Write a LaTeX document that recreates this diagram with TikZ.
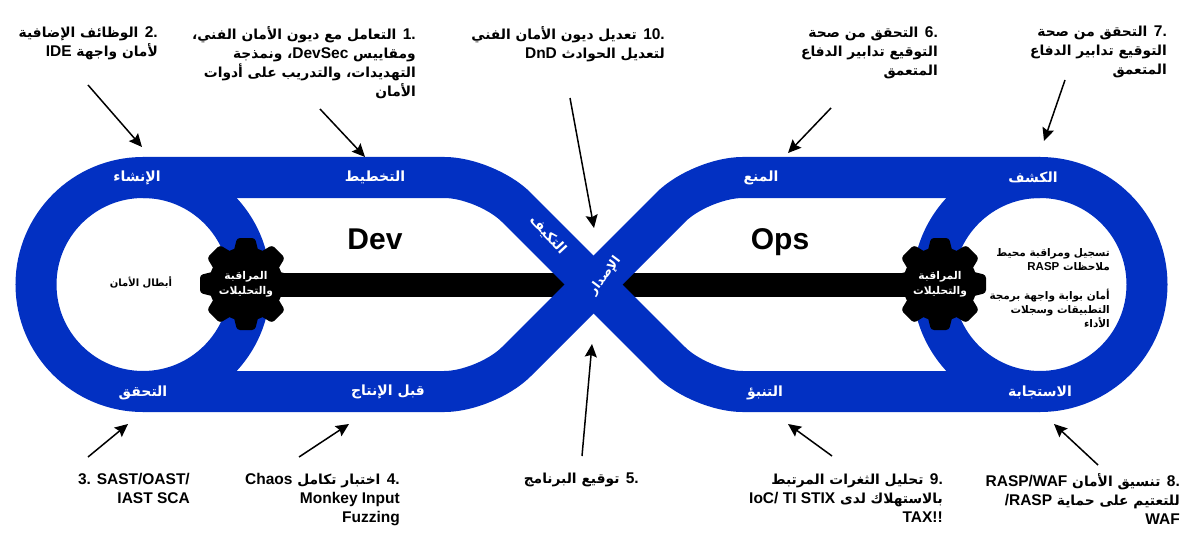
\documentclass[tikz,border=0pt]{standalone}
\usepackage{fontspec}
\usetikzlibrary{arrows.meta}
\TeXXeTstate=1
\setmainfont{Liberation Sans}
\newfontfamily\arfont[Script=Arabic]{DejaVu Sans}
\definecolor{bandblue}{HTML}{0230C2}
\newcommand{\ar}[1]{\beginR #1\endR}
\newcommand{\la}[1]{\beginL{\rmfamily\fontsize{15.5}{19}\selectfont #1}\endL{}}
\newcommand{\lb}[1]{\beginL{\rmfamily\fontsize{11.5}{14}\selectfont #1}\endL{}}
\newcommand{\gearshape}[2]{%
  \fill[black] (#1,#2) circle[radius=37pt];
  \foreach \ang in {0,45,...,315}{
    \fill[black,rounded corners=3pt,rotate around={\ang:(#1,#2)}]
      (#1-13,#2-30) -- (#1-9,#2-46) -- (#1+9,#2-46) -- (#1+13,#2-30) -- cycle;
  }}
\tikzset{
  annot/.style={anchor=north east,align=right,inner sep=0pt,font=\arfont\bfseries\fontsize{13.8}{19}\selectfont},
  bandlabel/.style={text=white,inner sep=0pt,font=\arfont\bfseries\fontsize{14}{16}\selectfont},
  smalltext/.style={anchor=north east,align=right,inner sep=0pt,font=\arfont\bfseries\fontsize{10.5}{14}\selectfont},
  geartext/.style={text=white,align=center,inner sep=0pt,font=\arfont\bfseries\fontsize{10.7}{14.5}\selectfont},
  bigtitle/.style={anchor=base,inner sep=0pt,font=\rmfamily\bfseries\fontsize{30}{34}\selectfont},
  callout/.style={line width=1.5pt,-{Stealth[length=13pt,width=12pt,inset=2pt]}},
  bandline/.style={bandblue,line width=41pt,line cap=butt,line join=round}
}
\begin{document}
\begin{tikzpicture}[x=1pt,y=-1pt]
\useasboundingbox (0,0) rectangle (1193,548);
\coordinate (xc) at (593.5,284.5);
\coordinate (gl) at (246,284.5);
\coordinate (gr) at (940,284.5);
% black bar
\draw[black,line width=24pt] (gl) -- (xc) -- (gr);
% loops
\draw[bandblue,line width=41pt] (143,284.5) circle[radius=107pt];
\draw[bandblue,line width=41pt] (1040,284.5) circle[radius=107pt];
% crossing bands
\draw[bandline,rounded corners=42pt] (143,177.5) -- (486.5,177.5) -- (xc) -- (700.5,391.5) -- (1040,391.5);
\draw[bandline,rounded corners=42pt] (143,391.5) -- (486.5,391.5) -- (xc) -- (700.5,177.5) -- (1040,177.5);
% gears
\gearshape{246}{284}
\gearshape{940}{284}
\node[geartext] (gtl) at (246,284) {\ar{المراقبة}\\\ar{والتحليلات}};
\node[geartext] (gtr) at (940,284) {\ar{المراقبة}\\\ar{والتحليلات}};
% titles
\node[bigtitle] (dev) at (375,249) {Dev};
\node[bigtitle] (ops) at (780,249) {Ops};
% band labels
\node[bandlabel] (l1) at (137,178) {\ar{الإنشاء}};
\node[bandlabel] (l2) at (375,177) {\ar{التخطيط}};
\node[bandlabel,rotate=-47] (l3) at (548,235) {\ar{التكيف}};
\node[bandlabel,rotate=53,font=\arfont\bfseries\fontsize{12.5}{14}\selectfont] (l4) at (605,276) {\ar{الإصدار}};
\node[bandlabel] (l5) at (761,178) {\ar{المنع}};
\node[bandlabel] (l6) at (1033,177) {\ar{الكشف}};
\node[bandlabel] (l7) at (143,393) {\ar{التحقق}};
\node[bandlabel] (l8) at (388,392) {\ar{قبل الإنتاج}};
\node[bandlabel] (l9) at (765,393) {\ar{التنبؤ}};
\node[bandlabel] (l10) at (1040,392) {\ar{الاستجابة}};
% inner texts
\node[text=black,inner sep=0pt,font=\arfont\bfseries\fontsize{10}{12}\selectfont] (in1) at (141,282) {\ar{أبطال الأمان}};
\node[smalltext] (in2) at (1110,248) {\ar{تسجيل ومراقبة محيط}\\\ar{ملاحظات \lb{RASP}}};
\node[smalltext] (in3) at (1110,289) {\ar{أمان بوابة واجهة برمجة}\\\ar{التطبيقات وسجلات}\\\ar{الأداء}};
% annotations
\node[annot] (t1) at (416,26) {\ar{\la{1.} التعامل مع ديون الأمان الفني،}\\\ar{ومقاييس \la{DevSec}، ونمذجة}\\\ar{التهديدات، والتدريب على أدوات}\\\ar{الأمان}};
\node[annot] (t2) at (158,26) {\ar{\la{2.} الوظائف الإضافية}\\\ar{لأمان واجهة \la{IDE}}\hspace{5pt}};
\node[annot] (t10) at (665,26) {\ar{\la{10.} تعديل ديون الأمان الفني}\\\ar{لتعديل الحوادث \la{DnD}}};
\node[annot] (t6) at (938,26) {\ar{\la{6.} التحقق من صحة}\\\ar{التوقيع تدابير الدفاع}\\\ar{المتعمق}};
\node[annot] (t7) at (1167,26) {\ar{\la{7.} التحقق من صحة}\\\ar{التوقيع تدابير الدفاع}\\\ar{المتعمق}};
\node[annot] (t3) at (190,473) {\la{3. SAST/OAST/}\\\la{IAST SCA}};
\node[annot] (t4) at (400,473) {\ar{\la{4.} اختبار تكامل \la{Chaos}}\\\la{Monkey Input}\\\la{Fuzzing}};
\node[annot] (t5) at (639,473) {\ar{\la{5.} توقيع البرنامج}};
\node[annot] (t9) at (943,473) {\ar{\la{9.} تحليل الثغرات المرتبط}\\\ar{بالاستهلاك لدى \la{IoC/ TI STIX}}\\\la{TAX!!}};
\node[annot] (t8) at (1180,473) {\ar{\la{8.} تنسيق الأمان \la{RASP/WAF}}\\\ar{للتعتيم على حماية \la{/RASP}}\\\la{WAF}};
% callout ends
\coordinate (a2s) at (88,85);   \coordinate (a2e) at (142,147);
\coordinate (a1s) at (320,109); \coordinate (a1e) at (365,157);
\coordinate (a10s) at (570,98); \coordinate (a10e) at (594,228);
\coordinate (a6s) at (831,108); \coordinate (a6e) at (788,153);
\coordinate (a7s) at (1065,80); \coordinate (a7e) at (1044,141);
\coordinate (a3s) at (88,457);  \coordinate (a3e) at (128,424);
\coordinate (a4s) at (299,457); \coordinate (a4e) at (349,424);
\coordinate (a5s) at (582,456); \coordinate (a5e) at (592,344);
\coordinate (a9s) at (832,456); \coordinate (a9e) at (788,424);
\coordinate (a8s) at (1098,465);\coordinate (a8e) at (1054,424);
\foreach \n in {1,...,10}{\draw[callout] (a\n s) -- (a\n e);}
\end{tikzpicture}
\end{document}
